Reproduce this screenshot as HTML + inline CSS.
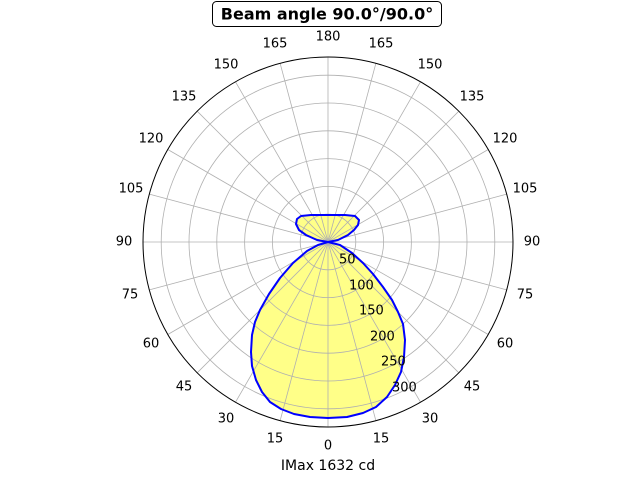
<!DOCTYPE html>
<html><head><meta charset="utf-8"><style>
html,body{margin:0;padding:0;background:#fff;}
svg text{font-family:"DejaVu Sans","Liberation Sans",sans-serif;font-size:13px;fill:#000;}
</style></head><body>
<svg width="640" height="480" viewBox="0 0 640 480" xmlns="http://www.w3.org/2000/svg">
<rect width="640" height="480" fill="#fff"/>
<g transform="translate(328,242)">
<polygon points="0,0 -10,3 -21,9 -35,21 -48,36 -59,52 -68,68 -73,80 -76,93 -77,110 -76,124 -72,138 -66,150 -58,160 -47,167 -34,172 -18,175 0,176 19,175 35,171 48,165 59,155 67,143 73,130 76,115 77,98 75,82 70,70 64,58 55,45 45,32 35,21 24,11 12,3" fill="#ffff88" stroke="none"/>
<polygon points="0,0 -11,-2 -22,-7 -29,-12 -32,-18 -31,-23 -27,-26 -17,-27 0,-27 17,-27 27,-26 31,-22 30,-17 26,-12 20,-7 10,-2" fill="#ffff88" stroke="none"/>
<g fill="none" stroke="#b0b0b0" stroke-width="0.8">
<circle r="27.8"/><circle r="55.6"/><circle r="83.4"/><circle r="111.2"/><circle r="139"/><circle r="166.8"/>
<line x2="0" y2="185"/><line x2="0" y2="185" transform="rotate(15)"/><line x2="0" y2="185" transform="rotate(30)"/><line x2="0" y2="185" transform="rotate(45)"/><line x2="0" y2="185" transform="rotate(60)"/><line x2="0" y2="185" transform="rotate(75)"/><line x2="0" y2="185" transform="rotate(90)"/><line x2="0" y2="185" transform="rotate(105)"/><line x2="0" y2="185" transform="rotate(120)"/><line x2="0" y2="185" transform="rotate(135)"/><line x2="0" y2="185" transform="rotate(150)"/><line x2="0" y2="185" transform="rotate(165)"/>
<line x2="0" y2="185" transform="rotate(180)"/><line x2="0" y2="185" transform="rotate(195)"/><line x2="0" y2="185" transform="rotate(210)"/><line x2="0" y2="185" transform="rotate(225)"/><line x2="0" y2="185" transform="rotate(240)"/><line x2="0" y2="185" transform="rotate(255)"/><line x2="0" y2="185" transform="rotate(270)"/><line x2="0" y2="185" transform="rotate(285)"/><line x2="0" y2="185" transform="rotate(300)"/><line x2="0" y2="185" transform="rotate(315)"/><line x2="0" y2="185" transform="rotate(330)"/><line x2="0" y2="185" transform="rotate(345)"/>
</g>
<polygon points="0,0 -10,3 -21,9 -35,21 -48,36 -59,52 -68,68 -73,80 -76,93 -77,110 -76,124 -72,138 -66,150 -58,160 -47,167 -34,172 -18,175 0,176 19,175 35,171 48,165 59,155 67,143 73,130 76,115 77,98 75,82 70,70 64,58 55,45 45,32 35,21 24,11 12,3" fill="none" stroke="#0000ff" stroke-width="2" stroke-linejoin="round"/>
<polygon points="0,0 -11,-2 -22,-7 -29,-12 -32,-18 -31,-23 -27,-26 -17,-27 0,-27 17,-27 27,-26 31,-22 30,-17 26,-12 20,-7 10,-2" fill="none" stroke="#0000ff" stroke-width="2" stroke-linejoin="round"/>
<circle r="185" fill="none" stroke="#000" stroke-width="1"/>
</g>
<g text-anchor="start" dominant-baseline="central">
<text x="339" y="260">50</text><text x="349" y="286">100</text><text x="359" y="311">150</text><text x="370" y="337">200</text><text x="381" y="362">250</text><text x="392" y="388">300</text>
</g>
<g text-anchor="middle" dominant-baseline="central">
<text x="328" y="446">0</text>
<text x="381" y="439">15</text><text x="275" y="439">15</text>
<text x="430" y="419">30</text><text x="226" y="419">30</text>
<text x="472" y="387">45</text><text x="184" y="387">45</text>
<text x="505" y="344">60</text><text x="151" y="344">60</text>
<text x="525" y="295">75</text><text x="130" y="295">75</text>
<text x="532" y="242">90</text><text x="124" y="242">90</text>
<text x="525" y="189">105</text><text x="131" y="189">105</text>
<text x="505" y="139">120</text><text x="151" y="139">120</text>
<text x="472" y="97">135</text><text x="184" y="97">135</text>
<text x="430" y="65">150</text><text x="226" y="65">150</text>
<text x="381" y="44">165</text><text x="275" y="44">165</text>
<text x="328" y="37">180</text>
<text x="328" y="466" style="font-size:14px">IMax 1632 cd</text>
</g>
<rect x="212.5" y="1.5" width="229" height="25" rx="4" fill="#fff" stroke="#000" stroke-width="1"/>
<text x="327" y="14" text-anchor="middle" dominant-baseline="central" style="font-size:16px;font-weight:bold">Beam angle 90.0°/90.0°</text>
</svg>
</body></html>
